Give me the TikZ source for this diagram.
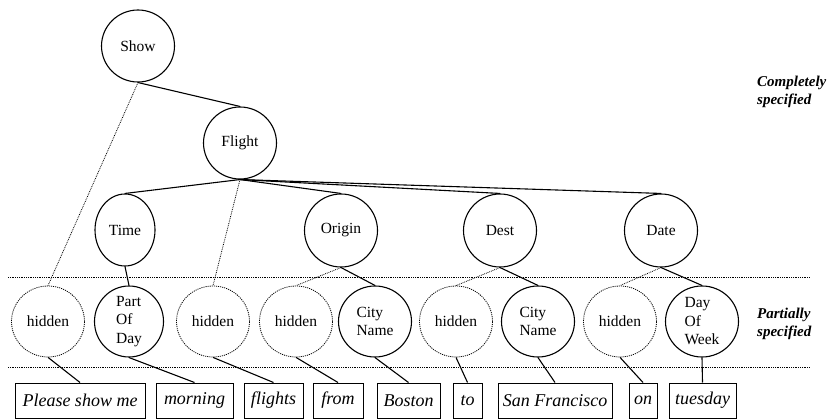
\documentclass[tikz,border=0pt]{standalone}
\usepackage{fontspec}
\setmainfont{Liberation Serif}
\usetikzlibrary{shapes.geometric}

\begin{document}
\begin{tikzpicture}[x=1pt,y=-1pt,
  concept/.style={ellipse, draw, line width=1.1pt, inner sep=-6pt,
    minimum width=73pt, minimum height=72pt, align=left,
    font=\fontsize{15.5}{18.5}\selectfont},
  hiddennode/.style={concept, densely dotted, line width=0.8pt},
  word/.style={draw, line width=1pt, inner sep=0pt, minimum height=35pt,
    font=\itshape\fontsize{18}{20}\selectfont},
  sidenote/.style={anchor=west, align=left, inner sep=0pt,
    font=\bfseries\itshape\fontsize{15}{17.5}\selectfont},
  link/.style={line width=1.1pt},
  weaklink/.style={densely dotted, line width=0.8pt},
  divider/.style={densely dotted, line width=0.8pt}]

\useasboundingbox (0,0) rectangle (832,419);

% fully specified tree
\node[concept] (show)   at (138,46)    {Show};
\node[concept] (flight) at (240,143)   {Flight};
\node[concept, minimum width=60pt] (time) at (125,230) {Time};
\node[concept, minimum height=73pt] (origin) at (341,230.5) {Origin};
\node[concept, minimum height=73pt] (dest)   at (500,230.5) {Dest};
\node[concept, minimum height=73pt] (date)   at (661,230.5) {Date};

% partially specified layer
\node[hiddennode, minimum height=71pt] (h1) at (48,321.5)  {hidden};
\node[concept, minimum width=69pt, minimum height=71pt] (pod) at (129,321.5) {Part\\Of\\Day};
\node[hiddennode, minimum height=71pt] (h2) at (213,321.5) {hidden};
\node[hiddennode, minimum height=71pt] (h3) at (296,321.5) {hidden};
\node[concept, minimum height=71pt] (cn1)   at (375,321.5) {City\\Name};
\node[hiddennode, minimum height=71pt] (h4) at (456,321.5) {hidden};
\node[concept, minimum height=71pt] (cn2)   at (538,321.5) {City\\Name};
\node[hiddennode, minimum height=71pt] (h5) at (620,321.5) {hidden};
\node[concept, minimum height=71pt] (dow)   at (702,321.5) {Day\\Of\\Week};

% words of the sentence
\node[word, minimum width=130pt] (w1) at (80,400.5)    {Please show me};
\node[word, minimum width=77pt]  (w2) at (194.5,400.5) {morning};
\node[word, minimum width=59pt]  (w3) at (273.5,400.5) {flights};
\node[word, minimum width=50pt]  (w4) at (338,400.5)   {from};
\node[word, minimum width=63pt]  (w5) at (408.5,400.5) {Boston};
\node[word, minimum width=29pt]  (w6) at (467.5,400.5) {to};
\node[word, minimum width=114pt] (w7) at (555,400.5)   {San Francisco};
\node[word, minimum width=28pt]  (w8) at (643,400.5)   {on};
\node[word, minimum width=67pt]  (w9) at (702.5,400.5) {tuesday};

% layer dividers
\coordinate (d1a) at (8,277.5);  \coordinate (d1b) at (810,277.5);
\coordinate (d2a) at (8,367);    \coordinate (d2b) at (810,367);
\draw[divider] (d1a) -- (d1b);
\draw[divider] (d2a) -- (d2b);

% side notes
\node[sidenote] (full) at (757,92)  {Completely\\specified};
\node[sidenote] (part) at (757,324) {Partially\\specified};

% tree links
\draw[link] (show.south) -- (flight.north);
\draw[weaklink] (show.south) -- (h1.north);
\draw[link] (flight.south) -- (time.north);
\draw[link] (flight.south) -- (origin.north);
\draw[link] (flight.south) -- (dest.north);
\draw[link] (flight.south) -- (date.north);
\draw[weaklink] (flight.south) -- (h2.north);
\draw[link] (time.south) -- (pod.north);
\draw[weaklink] (origin.south) -- (h3.north);
\draw[link] (origin.south) -- (cn1.north);
\draw[weaklink] (dest.south) -- (h4.north);
\draw[link] (dest.south) -- (cn2.north);
\draw[weaklink] (date.south) -- (h5.north);
\draw[link] (date.south) -- (dow.north);

% links down to the words
\draw[link] (h1.south)  -- (w1.north);
\draw[link] (pod.south) -- (w2.north);
\draw[link] (h2.south)  -- (w3.north);
\draw[link] (h3.south)  -- (w4.north);
\draw[link] (cn1.south) -- (w5.north);
\draw[link] (h4.south)  -- (w6.north);
\draw[link] (cn2.south) -- (w7.north);
\draw[link] (h5.south)  -- (w8.north);
\draw[link] (dow.south) -- (w9.north);
\end{tikzpicture}
\end{document}
